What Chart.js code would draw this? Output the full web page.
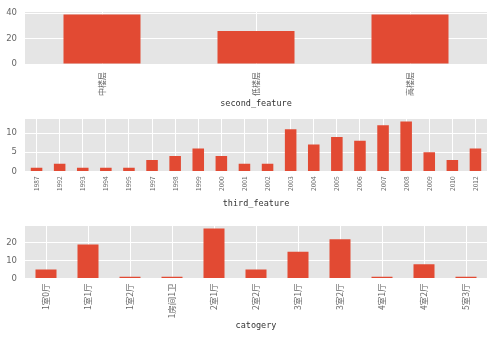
<!DOCTYPE html>
<html>
<head>
<meta charset="utf-8">
<script src="https://cdn.jsdelivr.net/npm/chart.js@4/dist/chart.umd.min.js"></script>
<style>
  html, body { margin: 0; padding: 0; background: #ffffff; }
  #wrap { position: relative; width: 500px; height: 339px; overflow: hidden; }
  canvas { position: absolute; left: 0; }
</style>
</head>
<body>
<div id="wrap">
  <canvas id="floorChart" width="500" height="112" style="top:0px"></canvas>
  <canvas id="yearChart" width="500" height="100" style="top:112px"></canvas>
  <canvas id="roomChart" width="500" height="127" style="top:212px"></canvas>
</div>
<script>
// second_feature
const floorLabels = ["中楼层", "低楼层", "高楼层"];
const floorCounts = [39, 26, 39];
const floorTicks = [0, 20, 40];

// third_feature
const yearLabels = ["1987", "1992", "1993", "1994", "1995", "1997", "1998", "1999", "2000", "2001",
  "2002", "2003", "2004", "2005", "2006", "2007", "2008", "2009", "2010", "2012"];
const yearCounts = [1, 2, 1, 1, 1, 3, 4, 6, 4, 2, 2, 11, 7, 9, 8, 12, 13, 5, 3, 6];
const yearTicks = [0, 5, 10];

// catogery
const roomLabels = ["1室0厅", "1室1厅", "1室2厅", "1房间1卫", "2室1厅", "2室2厅",
  "3室1厅", "3室2厅", "4室1厅", "4室2厅", "5室3厅"];
const roomCounts = [5, 19, 1, 1, 28, 5, 15, 22, 1, 8, 1];
const roomTicks = [0, 10, 20];

const COLORS = {
  BAR: "#E24A33",
  PANEL: "#E5E5E5",
  GRID: "#ffffff",
  TICK: "#666666",
  LABEL: "#333333"
};

const CJK = "'Noto Sans CJK SC', 'DejaVu Sans', sans-serif";

// grey panel behind the bars, ggplot style
const panelBackground = {
  id: "panelBackground",
  beforeDraw(chart) {
    const a = chart.chartArea;
    const ctx = chart.ctx;
    ctx.save();
    ctx.fillStyle = COLORS.PANEL;
    ctx.fillRect(a.left, a.top, a.right - a.left, a.bottom - a.top);
    ctx.restore();
  }
};

// rotated labels otherwise push the plot area down
function clearPadding(scale) {
  scale.paddingTop = 0;
  scale.paddingBottom = 0;
  scale.paddingLeft = 0;
  scale.paddingRight = 0;
}

function makeBarChart(id, labels, data, cfg) {
  const ctx = document.getElementById(id).getContext("2d");
  return new Chart(ctx, {
    type: "bar",
    data: {
      labels: labels,
      datasets: [{
        data: data,
        backgroundColor: COLORS.BAR,
        borderWidth: 0,
        categoryPercentage: 1.0,
        barPercentage: 0.5
      }]
    },
    plugins: [panelBackground],
    options: {
      responsive: false,
      animation: false,
      layout: { padding: { top: cfg.padTop, right: 13, left: 0, bottom: 0 } },
      plugins: { legend: { display: false }, tooltip: { enabled: false } },
      scales: {
        x: {
          grid: { color: COLORS.GRID, lineWidth: 1, offset: false, drawTicks: false },
          border: { display: false },
          ticks: {
            autoSkip: false,
            maxRotation: 90,
            minRotation: 90,
            padding: cfg.tickPad,
            color: COLORS.TICK,
            font: { family: CJK, size: cfg.tickSize }
          },
          title: {
            display: true,
            text: cfg.title,
            color: COLORS.LABEL,
            font: { family: "'DejaVu Sans Mono', monospace", size: 8.5 },
            padding: { top: 0, bottom: cfg.titleBottom }
          },
          afterFit(scale) {
            scale.height = cfg.xHeight;
            clearPadding(scale);
          }
        },
        y: {
          min: 0,
          max: cfg.yMax,
          grid: { color: COLORS.GRID, lineWidth: 1, drawTicks: false },
          border: { display: false },
          ticks: {
            padding: 8,
            color: COLORS.TICK,
            font: { family: "'DejaVu Sans', sans-serif", size: 8.5 }
          },
          afterBuildTicks(scale) { scale.ticks = cfg.yTicks.map(v => ({ value: v })); },
          afterFit(scale) {
            scale.width = 25;
            clearPadding(scale);
          }
        }
      }
    }
  });
}

makeBarChart("floorChart", floorLabels, floorCounts, {
  padTop: 12, xHeight: 48, yMax: 40.95, yTicks: floorTicks,
  tickPad: 8, tickSize: 8, title: "second_feature", titleBottom: 3
});

makeBarChart("yearChart", yearLabels, yearCounts, {
  padTop: 7, xHeight: 40.5, yMax: 13.65, yTicks: yearTicks,
  tickPad: 5, tickSize: 6.5, title: "third_feature", titleBottom: 3
});

makeBarChart("roomChart", roomLabels, roomCounts, {
  padTop: 14, xHeight: 60.5, yMax: 29.4, yTicks: roomTicks,
  tickPad: 5, tickSize: 8.5, title: "catogery", titleBottom: 8
});
</script>
</body>
</html>
